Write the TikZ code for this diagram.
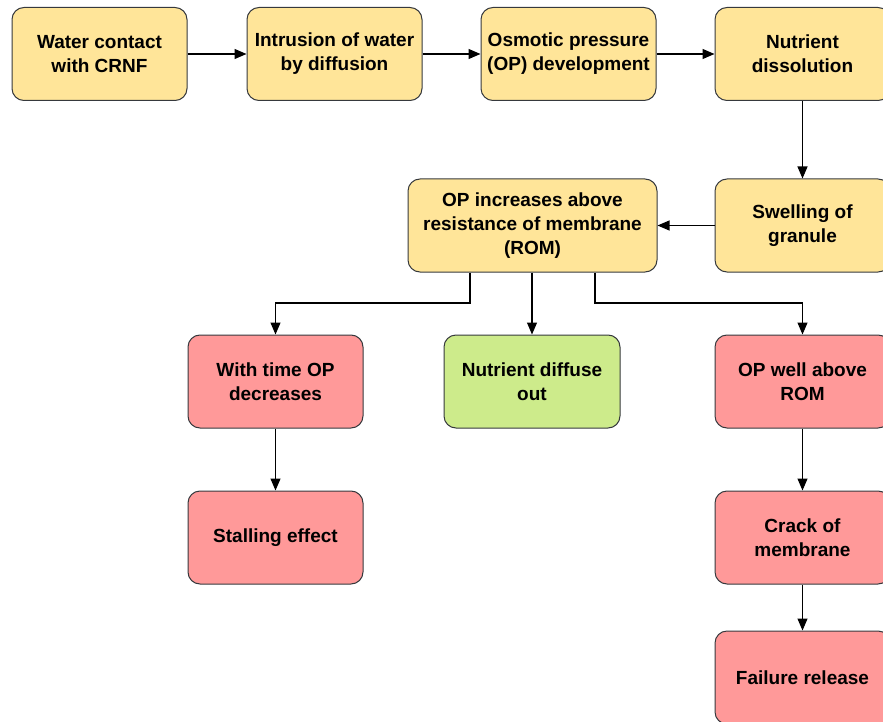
\documentclass[tikz,border=0pt]{standalone}
\usepackage{fontspec}
\setmainfont{Liberation Sans}
\usetikzlibrary{arrows.meta}
\definecolor{ylw}{HTML}{FFE599}
\definecolor{rd}{HTML}{FF9999}
\definecolor{grn}{HTML}{CDEB8B}
\definecolor{edge}{HTML}{36393D}
\tikzset{
  box/.style={draw=edge, line width=1pt, rounded corners=12pt, minimum width=175pt,
    minimum height=93pt, align=center, inner sep=2pt,
    font=\fontsize{19}{24}\selectfont\bfseries, text=black},
  ybox/.style={box, fill=ylw},
  rbox/.style={box, fill=rd},
  gbox/.style={box, fill=grn},
  conn/.style={draw=black, line width=1.1pt, -{Triangle[length=12pt,width=10pt]}}
}
\begin{document}
\begin{tikzpicture}[x=1pt,y=-1pt]
\useasboundingbox (0,0) rectangle (883,722);
\begin{scope}
\clip (0,0) rectangle (883,722);
\node[ybox] (a) at (99.5,54) {Water contact\\with CRNF};
\node[ybox] (b) at (334.5,54) {Intrusion of water\\by diffusion};
\node[ybox] (c) at (568.5,54) {Osmotic pressure\\(OP) development};
\node[ybox] (d) at (802.5,54) {Nutrient\\dissolution};
\node[ybox] (e) at (802.5,225.5) {Swelling of\\granule};
\node[ybox, minimum width=249pt] (f) at (532.5,225.5) {OP increases above\\resistance of membrane\\(ROM)};
\node[rbox] (g) at (275.5,381.5) {With time OP\\decreases};
\node[gbox, minimum width=176pt] (h) at (532,381.5) {Nutrient diffuse\\out};
\node[rbox] (i) at (802.5,381.5) {OP well above\\ROM};
\node[rbox] (j) at (275.5,537.5) {Stalling effect};
\node[rbox] (k) at (802.5,537.5) {Crack of\\membrane};
\node[rbox] (l) at (802.5,677.5) {Failure release};

\draw[conn] (a) -- (b);
\draw[conn] (b) -- (c);
\draw[conn] (c) -- (d);
\draw[conn] (d) -- (e);
\draw[conn] (e) -- (f);
\coordinate (fl) at (470,303);
\coordinate (fr) at (595,303);
\draw[conn] (f.south -| fl) -- (fl) -| (g.north);
\draw[conn] (f.south -| h.north) -- (h.north);
\draw[conn] (f.south -| fr) -- (fr) -| (i.north);
\draw[conn] (g) -- (j);
\draw[conn] (i) -- (k);
\draw[conn] (k) -- (l);
\end{scope}
\end{tikzpicture}
\end{document}
